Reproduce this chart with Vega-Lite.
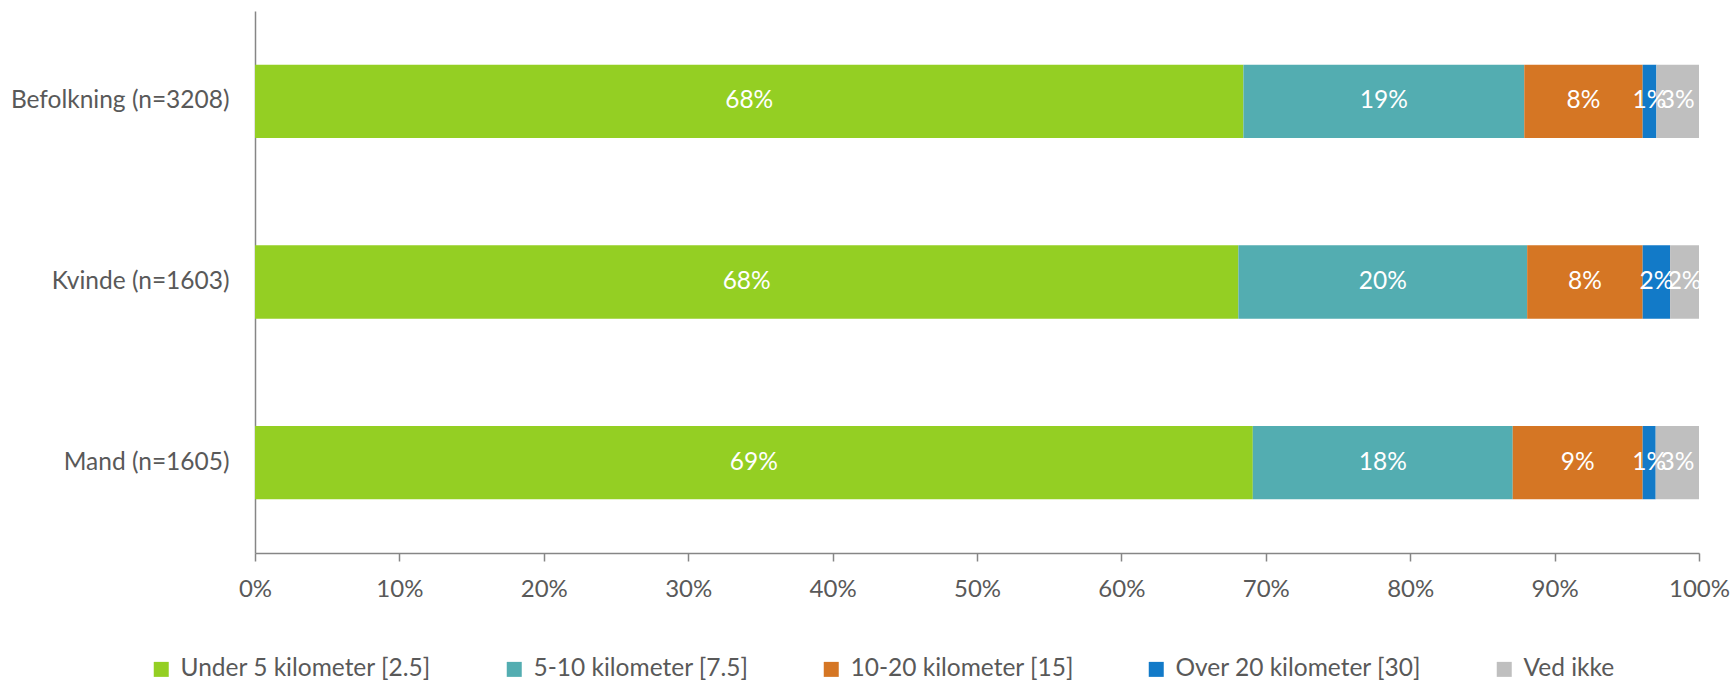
{
  "$schema": "https://vega.github.io/schema/vega-lite/v6.json",
  "width": 1444,
  "height": 542,
  "autosize": "none",
  "padding": {"left": 255, "top": 11, "right": 34, "bottom": 128},
  "background": "white",
  "config": {"view": {"stroke": null}, "font": "Lato"},
  "data": {
    "values": [
      {"group": "Befolkning (n=3208)", "cat": "Under 5 kilometer [2.5]", "order": 1, "value": 0.6845},
      {"group": "Befolkning (n=3208)", "cat": "5-10 kilometer [7.5]", "order": 2, "value": 0.1945},
      {"group": "Befolkning (n=3208)", "cat": "10-20 kilometer [15]", "order": 3, "value": 0.082},
      {"group": "Befolkning (n=3208)", "cat": "Over 20 kilometer [30]", "order": 4, "value": 0.0095},
      {"group": "Befolkning (n=3208)", "cat": "Ved ikke", "order": 5, "value": 0.0295},
      {"group": "Kvinde (n=1603)", "cat": "Under 5 kilometer [2.5]", "order": 1, "value": 0.681},
      {"group": "Kvinde (n=1603)", "cat": "5-10 kilometer [7.5]", "order": 2, "value": 0.200},
      {"group": "Kvinde (n=1603)", "cat": "10-20 kilometer [15]", "order": 3, "value": 0.080},
      {"group": "Kvinde (n=1603)", "cat": "Over 20 kilometer [30]", "order": 4, "value": 0.019},
      {"group": "Kvinde (n=1603)", "cat": "Ved ikke", "order": 5, "value": 0.020},
      {"group": "Mand (n=1605)", "cat": "Under 5 kilometer [2.5]", "order": 1, "value": 0.691},
      {"group": "Mand (n=1605)", "cat": "5-10 kilometer [7.5]", "order": 2, "value": 0.180},
      {"group": "Mand (n=1605)", "cat": "10-20 kilometer [15]", "order": 3, "value": 0.090},
      {"group": "Mand (n=1605)", "cat": "Over 20 kilometer [30]", "order": 4, "value": 0.009},
      {"group": "Mand (n=1605)", "cat": "Ved ikke", "order": 5, "value": 0.030}
    ]
  },
  "transform": [
    {"stack": "value", "groupby": ["group"], "sort": [{"field": "order"}], "as": ["x0", "x1"]},
    {"calculate": "(datum.x0 + datum.x1) / 2", "as": "mid"}
  ],
  "encoding": {
    "y": {
      "field": "group",
      "type": "nominal",
      "sort": null,
      "scale": {"paddingInner": 0.594, "paddingOuter": 0.297},
      "axis": {
        "title": null,
        "ticks": false,
        "labelPadding": 26,
        "labelLimit": 0,
        "labelFont": "Lato",
        "labelFontSize": 24.5,
        "labelColor": "#595959",
        "domainColor": "#868686",
        "domainWidth": 1.5
      }
    }
  },
  "layer": [
    {
      "mark": {"type": "bar"},
      "encoding": {
        "x": {
          "field": "x0",
          "type": "quantitative",
          "scale": {"domain": [0, 1], "nice": false},
          "axis": {
            "title": null,
            "format": ".0%",
            "values": [0, 0.1, 0.2, 0.3, 0.4, 0.5, 0.6, 0.7, 0.8, 0.9, 1],
            "grid": false,
            "tickSize": 8,
            "tickColor": "#868686",
            "tickWidth": 1.5,
            "domainColor": "#868686",
            "domainWidth": 1.5,
            "labelPadding": 16,
            "labelFlush": false,
            "labelFont": "Lato",
            "labelFontSize": 24,
            "labelColor": "#595959"
          }
        },
        "x2": {"field": "x1"},
        "color": {
          "field": "cat",
          "type": "nominal",
          "scale": {
            "domain": ["Under 5 kilometer [2.5]", "5-10 kilometer [7.5]", "10-20 kilometer [15]", "Over 20 kilometer [30]", "Ved ikke"],
            "range": ["#94CF23", "#53ADB1", "#D57624", "#127AC8", "#BFBFBF"]
          },
          "legend": {
            "title": null,
            "orient": "none",
            "legendX": -106,
            "legendY": 646,
            "direction": "horizontal",
            "columns": 5,
            "columnPadding": 70,
            "symbolType": "square",
            "symbolSize": 225,
            "symbolStrokeWidth": 0,
            "labelOffset": 7,
            "labelFont": "Lato",
            "labelFontSize": 24.5,
            "labelColor": "#595959",
            "labelLimit": 0
          }
        }
      }
    },
    {
      "mark": {"type": "text", "color": "white", "font": "Lato", "fontSize": 24.5, "baseline": "middle", "align": "center"},
      "encoding": {
        "x": {"field": "mid", "type": "quantitative"},
        "text": {"field": "value", "type": "quantitative", "format": ".0%"}
      }
    }
  ]
}
